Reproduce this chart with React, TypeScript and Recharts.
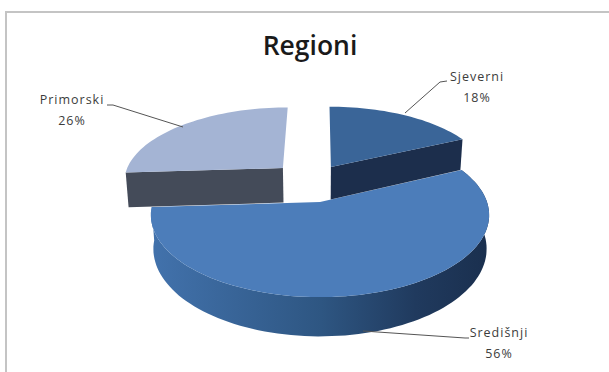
import React from "react";
import { PieChart, Pie, Cell } from "recharts";

const regionNames = ["Središnji", "Primorski", "Sjeverni"];
const regionShares = [56, 26, 18];
const topColors = ["#4C7DBA", "#A4B4D4", "#3A6598"];
const sideColors = ["#2F5885", "#444B59", "#1C2E4C"];

const chartData = regionNames.map((name, i) => ({ name, value: regionShares[i] }));

// Ground-plane displacement of each exploded wedge.
const wedgeOffsets: Record<string, [number, number]> = {
  "Središnji": [0, 0],
  "Primorski": [-0.238, -0.455],
  "Sjeverni": [0.07, -0.47],
};

// Extruded thickness of each wedge.
const wedgeDepths: Record<string, number> = {
  "Središnji": 33,
  "Primorski": 37,
  "Sjeverni": 35,
};

// Leader line and text placement for each data label.
const labelLayout: Record<string, { line: string; x: number; y: number }> = {
  "Središnji": { line: "363,331 465,338 469,338", x: 499, y: 337 },
  "Primorski": { line: "183,127 113,105 107,105", x: 72, y: 104 },
  "Sjeverni": { line: "405,113 440,82 447,81", x: 477, y: 81 },
};

const CX = 320;
const CY = 202;
const FOCAL_X = 167;
const FOCAL_Y = 80;
const TILT = 0.159;

// Projects a ground-plane point to the screen; a non-zero drop is the underside of the wedge.
function project(u: number, v: number, drop: number): [number, number] {
  const s = 1 / (1 - TILT * v);
  const shrink = drop ? 0.985 : 1;
  return [CX + FOCAL_X * u * s * shrink, CY + FOCAL_Y * v * s + drop * s];
}

function rimPoint(t: number, off: [number, number], drop: number) {
  const r = (t * Math.PI) / 180;
  return project(off[0] + Math.sin(r), off[1] - Math.cos(r), drop);
}

function rim(t1: number, t2: number, off: [number, number], drop: number) {
  const pts: [number, number][] = [];
  const steps = Math.max(2, Math.ceil((t2 - t1) / 2));
  for (let i = 0; i <= steps; i++) pts.push(rimPoint(t1 + ((t2 - t1) * i) / steps, off, drop));
  return pts;
}

const toPoints = (pts: [number, number][]) => pts.map((p) => `${p[0].toFixed(1)},${p[1].toFixed(1)}`).join(" ");

function WedgeShape(props: any) {
  const name: string = props.name ?? props.payload?.name;
  const idx = regionNames.indexOf(name);
  const off = wedgeOffsets[name];
  const drop = wedgeDepths[name];
  const sweep = props.startAngle - props.endAngle;
  const t1 = (((90 - props.startAngle) % 360) + 360) % 360;
  const t2 = t1 + sweep;
  const top = topColors[idx];
  const side = sideColors[idx];
  const apexTop = project(off[0], off[1], 0);
  const apexBottom = project(off[0], off[1], drop);
  const faces: React.ReactNode[] = [];

  // The outer wall is only visible on wedges that reach the front of the disc.
  if (t1 < 180 && t2 > 180) {
    const upper = rim(t1, t2, off, 0);
    const lower = rim(t1, t2, off, drop).reverse();
    faces.push(
      <linearGradient key="g" id="frontWall" gradientUnits="userSpaceOnUse" x1="152" y1="0" x2="490" y2="0">
        <stop offset="0" stopColor="#4272AC" />
        <stop offset="0.5" stopColor="#2E5682" />
        <stop offset="0.78" stopColor="#203A5E" />
        <stop offset="1" stopColor="#1A2F4E" />
      </linearGradient>,
      <polygon key="w" points={toPoints([...upper, ...lower])} fill="url(#frontWall)" />
    );
  }
  // Cut faces, drawn only when they turn towards the viewer.
  const cut = (t: number, key: string) => {
    const a = rimPoint(t, off, 0);
    const b = rimPoint(t, off, drop);
    return <polygon key={key} points={toPoints([apexTop, a, b, apexBottom])} fill={side} />;
  };
  if (-Math.sin((t1 * Math.PI) / 180) > 0.01) faces.push(cut(t1, "c1"));
  if (Math.sin((t2 * Math.PI) / 180) > 0.01) faces.push(cut(t2, "c2"));

  return (
    <g>
      {faces}
      <polygon points={toPoints([apexTop, ...rim(t1, t2, off, 0)])} fill={top} />
    </g>
  );
}

function RegionLabel(props: any) {
  const name: string = props.name ?? props.payload?.name;
  const layout = labelLayout[name];
  const textStyle = { fontFamily: "'Open Sans', sans-serif", fontSize: 12.5, fill: "#3c3c3c", letterSpacing: 1 };
  return (
    <g>
      <polyline points={layout.line} fill="none" stroke="#555" strokeWidth={1} />
      <text x={layout.x} y={layout.y} textAnchor="middle" style={textStyle}>
        {name}
      </text>
      <text x={layout.x} y={layout.y + 21} textAnchor="middle" style={textStyle}>
        {props.value}%
      </text>
    </g>
  );
}

export default function App() {
  return (
    <div style={{ position: "absolute", left: 0, top: 0, width: 609, height: 372, background: "#fff", overflow: "hidden" }}>
      <div
        style={{
          position: "absolute",
          left: 5,
          top: 11,
          width: 620,
          height: 380,
          borderLeft: "2px solid #c4c4c4",
          borderTop: "2px solid #c4c4c4",
        }}
      />
      <PieChart width={609} height={372} style={{ position: "absolute", left: 0, top: 0 }} margin={{ top: 0, right: 0, bottom: 0, left: 0 }}>
        <text
          x={310}
          y={55}
          textAnchor="middle"
          style={{ fontFamily: "'Open Sans', sans-serif", fontSize: 26.5, fontWeight: 600, fill: "#1a1a1a" }}
        >
          Regioni
        </text>
        <Pie
          data={chartData}
          dataKey="value"
          nameKey="name"
          cx={CX}
          cy={CY}
          outerRadius={100}
          startAngle={25.2}
          endAngle={-334.8}
          stroke="none"
          shape={WedgeShape}
          label={RegionLabel}
          labelLine={false}
          isAnimationActive={false}
        >
          {chartData.map((d, i) => (
            <Cell key={d.name} fill={topColors[i]} />
          ))}
        </Pie>
      </PieChart>
    </div>
  );
}
